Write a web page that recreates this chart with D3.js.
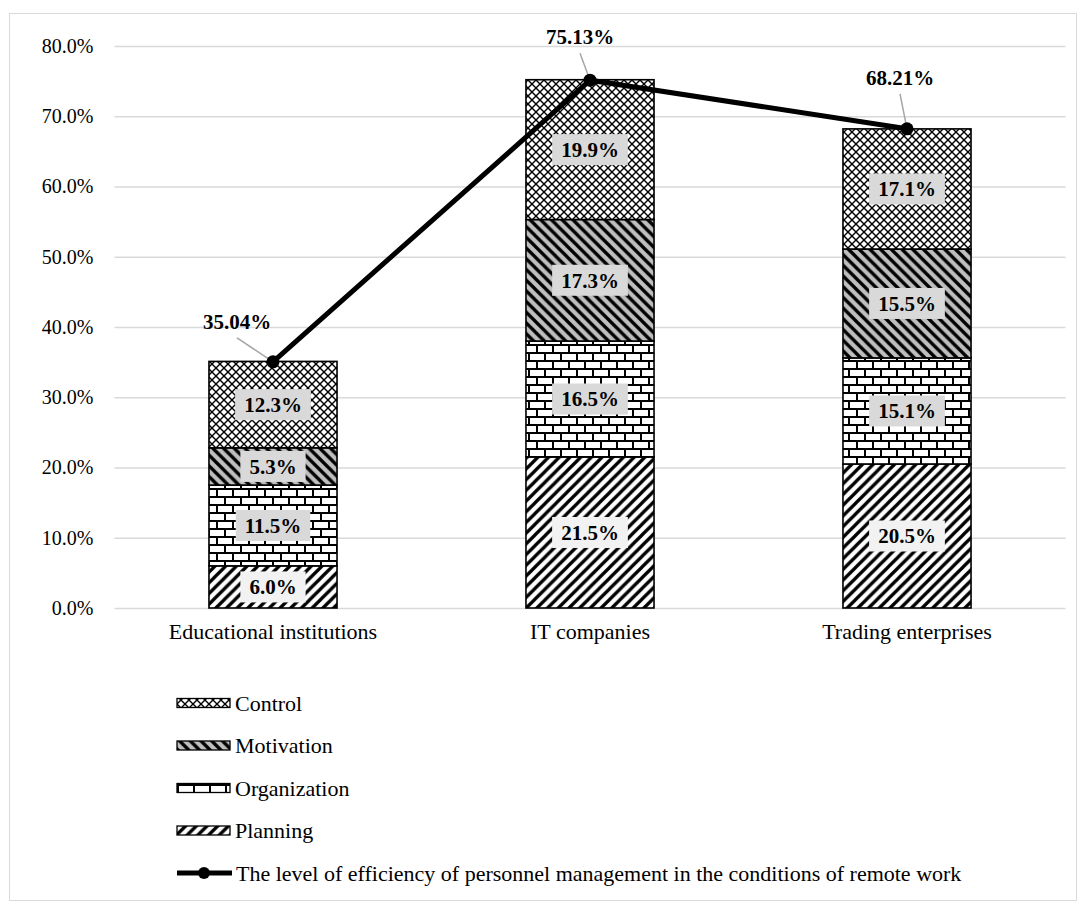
<!DOCTYPE html>
<html>
<head>
<meta charset="utf-8">
<script src="https://cdn.jsdelivr.net/npm/d3@7"></script>
<style>
  body { margin: 0; background: #fff; }
  text { font-family: "Liberation Serif", "Times New Roman", serif; }
</style>
</head>
<body>
<div id="chart"></div>
<script>
// data
const categories = ["Educational institutions", "IT companies", "Trading enterprises"];
const seriesNames = ["Planning", "Organization", "Motivation", "Control"];
const planning = [6.0, 21.5, 20.5];
const organization = [11.5, 16.5, 15.1];
const motivation = [5.3, 17.3, 15.5];
const control = [12.3, 19.9, 17.1];
const efficiency = [35.04, 75.13, 68.21];
const lineName = "The level of efficiency of personnel management in the conditions of remote work";
const yTicks = [0, 10, 20, 30, 40, 50, 60, 70, 80];

const width = 1086, height = 913;
const plot = { left: 114.5, right: 1065.5, top: 46, bottom: 608 };

const svg = d3.select("#chart").append("svg")
    .attr("width", width)
    .attr("height", height);

const defs = svg.append("defs");

// pattern fills
function diagPattern(id, bg, dir) {
    const s = 10.7;
    const p = defs.append("pattern").attr("id", id)
        .attr("patternUnits", "userSpaceOnUse")
        .attr("width", s).attr("height", s);
    p.append("rect").attr("width", s).attr("height", s).attr("fill", bg);
    const d = dir > 0
        ? `M${-s / 2},${s / 2} L${s / 2},${-s / 2} M0,${s} L${s},0 M${s / 2},${s * 1.5} L${s * 1.5},${s / 2}`
        : `M${-s / 2},${s / 2} L${s / 2},${s * 1.5} M0,0 L${s},${s} M${s / 2},${-s / 2} L${s * 1.5},${s / 2}`;
    p.append("path").attr("d", d).attr("stroke", "#000").attr("stroke-width", 3.3);
}
diagPattern("pat-planning", "#fff", 1);
diagPattern("pat-motivation", "#bfbfbf", -1);

const cross = defs.append("pattern").attr("id", "pat-control")
    .attr("patternUnits", "userSpaceOnUse").attr("width", 8).attr("height", 8);
cross.append("rect").attr("width", 8).attr("height", 8).attr("fill", "#fff");
cross.append("path").attr("d", "M0,0 L8,8 M0,8 L8,0")
    .attr("stroke", "#000").attr("stroke-width", 1.4);

const brick = defs.append("pattern").attr("id", "pat-organization")
    .attr("patternUnits", "userSpaceOnUse").attr("width", 16).attr("height", 16);
brick.append("rect").attr("width", 16).attr("height", 16).attr("fill", "#fff");
brick.append("path").attr("d", "M0,1 H16 M0,9 H16 M1,1 V9 M9,9 V17")
    .attr("stroke", "#000").attr("stroke-width", 2);

const fills = {
    Planning: "url(#pat-planning)",
    Organization: "url(#pat-organization)",
    Motivation: "url(#pat-motivation)",
    Control: "url(#pat-control)"
};
const boxFill = { Planning: "#f2f2f2", Organization: "#d9d9d9", Motivation: "#d9d9d9", Control: "#d9d9d9" };

// outer frame
svg.append("rect")
    .attr("x", 9.5).attr("y", 13.5)
    .attr("width", 1067).attr("height", 887)
    .attr("fill", "none").attr("stroke", "#d9d9d9");

const x = d3.scaleBand()
    .domain(categories)
    .range([plot.left, plot.right])
    .paddingInner(0.596)
    .paddingOuter(0.298);

const y = d3.scaleLinear().domain([0, 80]).range([plot.bottom, plot.top]);

// gridlines + y axis
const yAxis = svg.append("g")
    .attr("transform", `translate(${plot.left},0)`)
    .call(d3.axisLeft(y).tickValues(yTicks)
        .tickSize(-(plot.right - plot.left))
        .tickPadding(21)
        .tickFormat(d => d.toFixed(1) + "%"));
yAxis.select(".domain").remove();
yAxis.selectAll(".tick line").attr("stroke", "#d9d9d9").attr("stroke-width", 1.3);
yAxis.selectAll(".tick text")
    .attr("font-family", "Liberation Serif").attr("font-size", 20).attr("fill", "#000");

// category labels
const xAxis = svg.append("g")
    .attr("transform", `translate(0,${plot.bottom})`)
    .call(d3.axisBottom(x).tickSize(0).tickPadding(15));
xAxis.select(".domain").remove();
xAxis.selectAll(".tick text")
    .attr("font-family", "Liberation Serif").attr("font-size", 22).attr("fill", "#000");

// stacked bars
const rows = categories.map((c, i) => ({
    category: c,
    Planning: planning[i],
    Organization: organization[i],
    Motivation: motivation[i],
    Control: control[i]
}));
const stacked = d3.stack().keys(seriesNames)(rows);

const layers = svg.selectAll(".layer")
    .data(stacked)
    .enter().append("g")
    .attr("class", "layer");

layers.selectAll("rect")
    .data(d => d.map(v => ({ key: d.key, v })))
    .enter().append("rect")
    .attr("x", d => x(d.v.data.category))
    .attr("y", d => y(d.v[1]))
    .attr("width", x.bandwidth())
    .attr("height", d => y(d.v[0]) - y(d.v[1]))
    .attr("fill", d => fills[d.key])
    .attr("stroke", "#000")
    .attr("stroke-width", 1.6);

// value labels inside segments
const segLabels = layers.selectAll(".seg-label")
    .data(d => d.map(v => ({ key: d.key, v })))
    .enter().append("g")
    .attr("class", "seg-label")
    .attr("transform", d => `translate(${x(d.v.data.category) + x.bandwidth() / 2},${y((d.v[0] + d.v[1]) / 2)})`);

segLabels.each(function (d) {
    const g = d3.select(this);
    const t = g.append("text")
        .attr("text-anchor", "middle")
        .attr("dy", "0.35em")
        .attr("font-size", 21)
        .attr("font-weight", "bold")
        .attr("fill", "#000")
        .text((d.v[1] - d.v[0]).toFixed(1) + "%");
    const w = t.node().getComputedTextLength() + 18;
    g.insert("rect", "text")
        .attr("x", -w / 2).attr("y", -15.5)
        .attr("width", w).attr("height", 31)
        .attr("fill", boxFill[d.key]);
});

// efficiency line
const pts = categories.map((c, i) => ({ x: x(c) + x.bandwidth() / 2, y: y(efficiency[i]), v: efficiency[i] }));
const labelOffset = [[-36, -33], [-10, -36], [-7, -44]];

svg.selectAll(".leader")
    .data(pts)
    .enter().append("line")
    .attr("x1", (d, i) => d.x + labelOffset[i][0])
    .attr("y1", (d, i) => d.y + labelOffset[i][1] + 9)
    .attr("x2", d => d.x)
    .attr("y2", d => d.y)
    .attr("stroke", "#a6a6a6")
    .attr("stroke-width", 1.5);

svg.append("path")
    .datum(pts)
    .attr("fill", "none")
    .attr("stroke", "#000")
    .attr("stroke-width", 5)
    .attr("d", d3.line().x(d => d.x).y(d => d.y));

svg.selectAll(".marker")
    .data(pts)
    .enter().append("circle")
    .attr("cx", d => d.x)
    .attr("cy", d => d.y)
    .attr("r", 6.5)
    .attr("fill", "#000");

svg.selectAll(".line-label")
    .data(pts)
    .enter().append("text")
    .attr("x", (d, i) => d.x + labelOffset[i][0])
    .attr("y", (d, i) => d.y + labelOffset[i][1])
    .attr("text-anchor", "middle")
    .attr("font-size", 21)
    .attr("font-weight", "bold")
    .text(d => d.v.toFixed(2) + "%");

// legend
const legendItems = ["Control", "Motivation", "Organization", "Planning"];
const legend = svg.append("g").attr("transform", "translate(177,0)");
legendItems.forEach((name, i) => {
    const cy = 703 + i * 42.5;
    legend.append("rect")
        .attr("x", 0).attr("y", cy - 4.5)
        .attr("width", 53).attr("height", 9)
        .attr("fill", fills[name])
        .attr("stroke", "#000").attr("stroke-width", 1.3);
    legend.append("text")
        .attr("x", 58).attr("y", cy).attr("dy", "0.35em")
        .attr("font-size", 22).text(name);
});
const ly = 703 + 4 * 42.5;
legend.append("line")
    .attr("x1", 0).attr("x2", 55).attr("y1", ly).attr("y2", ly)
    .attr("stroke", "#000").attr("stroke-width", 5);
legend.append("circle").attr("cx", 27).attr("cy", ly).attr("r", 6).attr("fill", "#000");
legend.append("text")
    .attr("x", 59).attr("y", ly).attr("dy", "0.35em")
    .attr("font-size", 22).text(lineName);
</script>
</body>
</html>
